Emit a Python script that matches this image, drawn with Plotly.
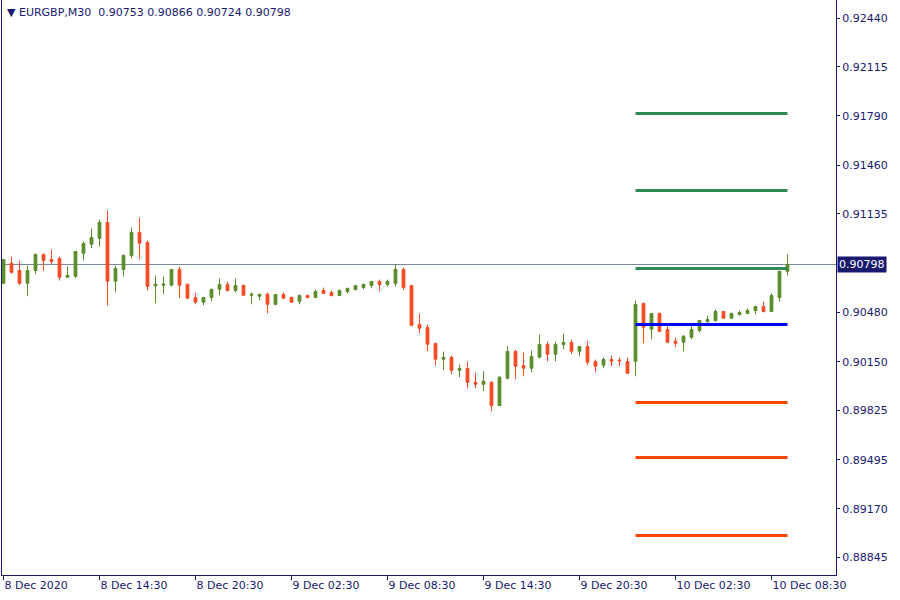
import pandas as pd
import plotly.graph_objects as go

# ---------------- data ----------------
symbol_title = "\u25BC EURGBP,M30  0.90753 0.90866 0.90724 0.90798"
times = pd.date_range("2020-12-08 08:30", periods=99, freq="30min")

open_ = [
    0.90673, 0.90807, 0.90758, 0.90673, 0.90758, 0.90865, 0.90831, 0.90838, 0.90713, 0.90720,
    0.90873, 0.90933, 0.90973, 0.91078, 0.90687, 0.90765, 0.90858, 0.91011, 0.90945, 0.90656,
    0.90660, 0.90660, 0.90765, 0.90667, 0.90578, 0.90547, 0.90578, 0.90633, 0.90665, 0.90625,
    0.90658, 0.90593, 0.90587, 0.90600, 0.90533, 0.90598, 0.90578, 0.90553, 0.90591, 0.90578,
    0.90625, 0.90611, 0.90591, 0.90618, 0.90631, 0.90645, 0.90658, 0.90685, 0.90665, 0.90671,
    0.90765, 0.90658, 0.90398, 0.90378, 0.90271, 0.90167, 0.90178, 0.90093, 0.90105, 0.90013,
    0.90000, 0.90013, 0.89858, 0.90040, 0.90218, 0.90125, 0.90107, 0.90180, 0.90265, 0.90200,
    0.90265, 0.90278, 0.90220, 0.90251, 0.90151, 0.90127, 0.90165, 0.90160, 0.90151, 0.90153,
    0.90538, 0.90367, 0.90471, 0.90365, 0.90287, 0.90280, 0.90313, 0.90358, 0.90418, 0.90425,
    0.90485, 0.90440, 0.90465, 0.90471, 0.90491, 0.90518, 0.90485, 0.90578, 0.90753]

high = [
    0.90831, 0.90851, 0.90825, 0.90791, 0.90873, 0.90873, 0.90898, 0.90851, 0.90785, 0.90885,
    0.90951, 0.91038, 0.91098, 0.91158, 0.90791, 0.90865, 0.91045, 0.91111, 0.90958, 0.90725,
    0.90718, 0.90765, 0.90785, 0.90667, 0.90611, 0.90578, 0.90638, 0.90705, 0.90685, 0.90705,
    0.90665, 0.90611, 0.90600, 0.90611, 0.90598, 0.90611, 0.90585, 0.90598, 0.90598, 0.90631,
    0.90645, 0.90625, 0.90631, 0.90645, 0.90658, 0.90671, 0.90685, 0.90698, 0.90698, 0.90798,
    0.90778, 0.90660, 0.90471, 0.90398, 0.90278, 0.90218, 0.90191, 0.90131, 0.90151, 0.90080,
    0.90087, 0.90020, 0.90053, 0.90253, 0.90231, 0.90211, 0.90225, 0.90331, 0.90285, 0.90285,
    0.90338, 0.90298, 0.90251, 0.90291, 0.90165, 0.90178, 0.90191, 0.90178, 0.90178, 0.90558,
    0.90545, 0.90471, 0.90478, 0.90398, 0.90309, 0.90327, 0.90405, 0.90425, 0.90458, 0.90498,
    0.90485, 0.90478, 0.90491, 0.90505, 0.90518, 0.90551, 0.90605, 0.90753, 0.90866]

low = [
    0.90671, 0.90736, 0.90660, 0.90587, 0.90736, 0.90758, 0.90803, 0.90691, 0.90711, 0.90707,
    0.90825, 0.90907, 0.90918, 0.90525, 0.90613, 0.90718, 0.90838, 0.90831, 0.90625, 0.90540,
    0.90600, 0.90653, 0.90573, 0.90573, 0.90533, 0.90527, 0.90553, 0.90593, 0.90618, 0.90613,
    0.90593, 0.90533, 0.90560, 0.90473, 0.90527, 0.90573, 0.90547, 0.90533, 0.90573, 0.90578,
    0.90605, 0.90585, 0.90591, 0.90605, 0.90625, 0.90633, 0.90640, 0.90618, 0.90651, 0.90651,
    0.90627, 0.90387, 0.90340, 0.90220, 0.90127, 0.90093, 0.90067, 0.90047, 0.89973, 0.89973,
    0.89953, 0.89820, 0.89858, 0.90033, 0.90033, 0.90053, 0.90080, 0.90173, 0.90153, 0.90153,
    0.90233, 0.90200, 0.90187, 0.90127, 0.90080, 0.90107, 0.90120, 0.90120, 0.90073, 0.90053,
    0.90273, 0.90300, 0.90347, 0.90273, 0.90247, 0.90220, 0.90300, 0.90347, 0.90391, 0.90418,
    0.90440, 0.90440, 0.90458, 0.90471, 0.90465, 0.90478, 0.90485, 0.90551, 0.90724]

close = [
    0.90831, 0.90747, 0.90673, 0.90758, 0.90865, 0.90825, 0.90818, 0.90713, 0.90725, 0.90885,
    0.90938, 0.90978, 0.91078, 0.90687, 0.90771, 0.90858, 0.91011, 0.90940, 0.90653, 0.90667,
    0.90667, 0.90765, 0.90660, 0.90573, 0.90547, 0.90578, 0.90631, 0.90665, 0.90625, 0.90658,
    0.90593, 0.90600, 0.90600, 0.90533, 0.90598, 0.90573, 0.90547, 0.90591, 0.90578, 0.90618,
    0.90605, 0.90591, 0.90625, 0.90638, 0.90658, 0.90665, 0.90685, 0.90665, 0.90685, 0.90765,
    0.90645, 0.90393, 0.90373, 0.90267, 0.90167, 0.90178, 0.90093, 0.90105, 0.90013, 0.90000,
    0.90020, 0.89858, 0.90047, 0.90218, 0.90120, 0.90107, 0.90185, 0.90265, 0.90200, 0.90265,
    0.90278, 0.90220, 0.90251, 0.90147, 0.90120, 0.90165, 0.90153, 0.90156, 0.90073, 0.90531,
    0.90380, 0.90471, 0.90353, 0.90280, 0.90273, 0.90320, 0.90365, 0.90425, 0.90431, 0.90485,
    0.90440, 0.90471, 0.90478, 0.90491, 0.90518, 0.90485, 0.90591, 0.90753, 0.90798]

current_price = 0.90798

# pivot levels (resistance, pivot, support)
resistance_levels = [0.91805, 0.91291, 0.90771]
pivot_level = 0.90398
support_levels = [0.89878, 0.89511, 0.88991]
pivot_start = "2020-12-10 00:00"
pivot_end = "2020-12-10 09:30"

y_tick_values = [0.92440, 0.92115, 0.91790, 0.91460, 0.91135, 0.90480,
                 0.90150, 0.89825, 0.89495, 0.89170, 0.88845]
x_tick_times = ["2020-12-08 08:30", "2020-12-08 14:30", "2020-12-08 20:30",
                "2020-12-09 02:30", "2020-12-09 08:30", "2020-12-09 14:30",
                "2020-12-09 20:30", "2020-12-10 02:30", "2020-12-10 08:30"]
x_tick_labels = ["8 Dec 2020", "8 Dec 14:30", "8 Dec 20:30", "9 Dec 02:30",
                 "9 Dec 08:30", "9 Dec 14:30", "9 Dec 20:30", "10 Dec 02:30",
                 "10 Dec 08:30"]

# ---------------- styling ----------------
NAVY = "#191970"
UP = "#5b8c2a"
DOWN = "#f24d24"
R_COL = "#2e8b57"
P_COL = "#0000ff"
S_COL = "#ff4500"
FONT = "DejaVu Sans"

fig = go.Figure()

for lvl in resistance_levels:
    fig.add_trace(go.Scatter(x=[pivot_start, pivot_end], y=[lvl, lvl], mode="lines",
                             line=dict(color=R_COL, width=3), hoverinfo="skip"))
fig.add_trace(go.Scatter(x=[pivot_start, pivot_end], y=[pivot_level, pivot_level], mode="lines",
                         line=dict(color=P_COL, width=3), hoverinfo="skip"))
for lvl in support_levels:
    fig.add_trace(go.Scatter(x=[pivot_start, pivot_end], y=[lvl, lvl], mode="lines",
                             line=dict(color=S_COL, width=3), hoverinfo="skip"))

fig.add_trace(go.Candlestick(
    x=times, open=open_, high=high, low=low, close=close,
    increasing=dict(line=dict(color=UP, width=1), fillcolor=UP),
    decreasing=dict(line=dict(color=DOWN, width=1), fillcolor=DOWN),
    whiskerwidth=0,
))

# axis window: 834 px wide at 8 px per bar, first bar 1.5 px from the left edge
bar = pd.Timedelta(minutes=30)
x_left = times[0] - bar * 0.1875
x_right = x_left + bar * 104.25

fig.add_shape(type="line", xref="paper", x0=0, x1=1, yref="y",
              y0=current_price, y1=current_price,
              line=dict(color="#778899", width=1), layer="below")

fig.add_annotation(xref="paper", x=1, yref="y", y=current_price,
                   xanchor="left", yanchor="middle", showarrow=False,
                   text=f"{current_price:.5f}", font=dict(family=FONT, size=11, color="white"),
                   bgcolor=NAVY, borderpad=1, xshift=1)

fig.add_annotation(xref="paper", yref="paper", x=0, y=1, xanchor="left", yanchor="top",
                   showarrow=False, text=symbol_title, xshift=3, yshift=-4,
                   font=dict(family=FONT, size=11, color=NAVY))

fig.update_layout(
    width=900, height=600,
    margin=dict(l=2, r=64, t=0, b=25, autoexpand=False),
    paper_bgcolor="white", plot_bgcolor="white",
    showlegend=False,
    boxgap=0.5,
    font=dict(family=FONT, size=11, color=NAVY),
    xaxis=dict(
        type="date", range=[x_left, x_right], rangeslider=dict(visible=False),
        automargin=False,
        showgrid=False, zeroline=False,
        showline=True, linecolor=NAVY, linewidth=1,
        ticks="outside", ticklen=4, tickcolor=NAVY,
        tickvals=x_tick_times, ticktext=x_tick_labels,
        ticklabelposition="outside right",
        tickfont=dict(family=FONT, size=11, color=NAVY),
    ),
    yaxis=dict(
        side="right", range=[0.887283, 0.925613],
        automargin=False,
        showgrid=False, zeroline=False,
        showline=True, mirror=True, linecolor=NAVY, linewidth=1,
        ticks="outside", ticklen=3, tickcolor=NAVY,
        tickvals=y_tick_values, ticktext=[f"{v:.5f}" for v in y_tick_values],
        tickfont=dict(family=FONT, size=11, color=NAVY),
    ),
)

fig.write_html("out.html",
               config={"displayModeBar": False},
               post_script="document.body.style.margin='0';document.body.style.overflow='hidden';")
